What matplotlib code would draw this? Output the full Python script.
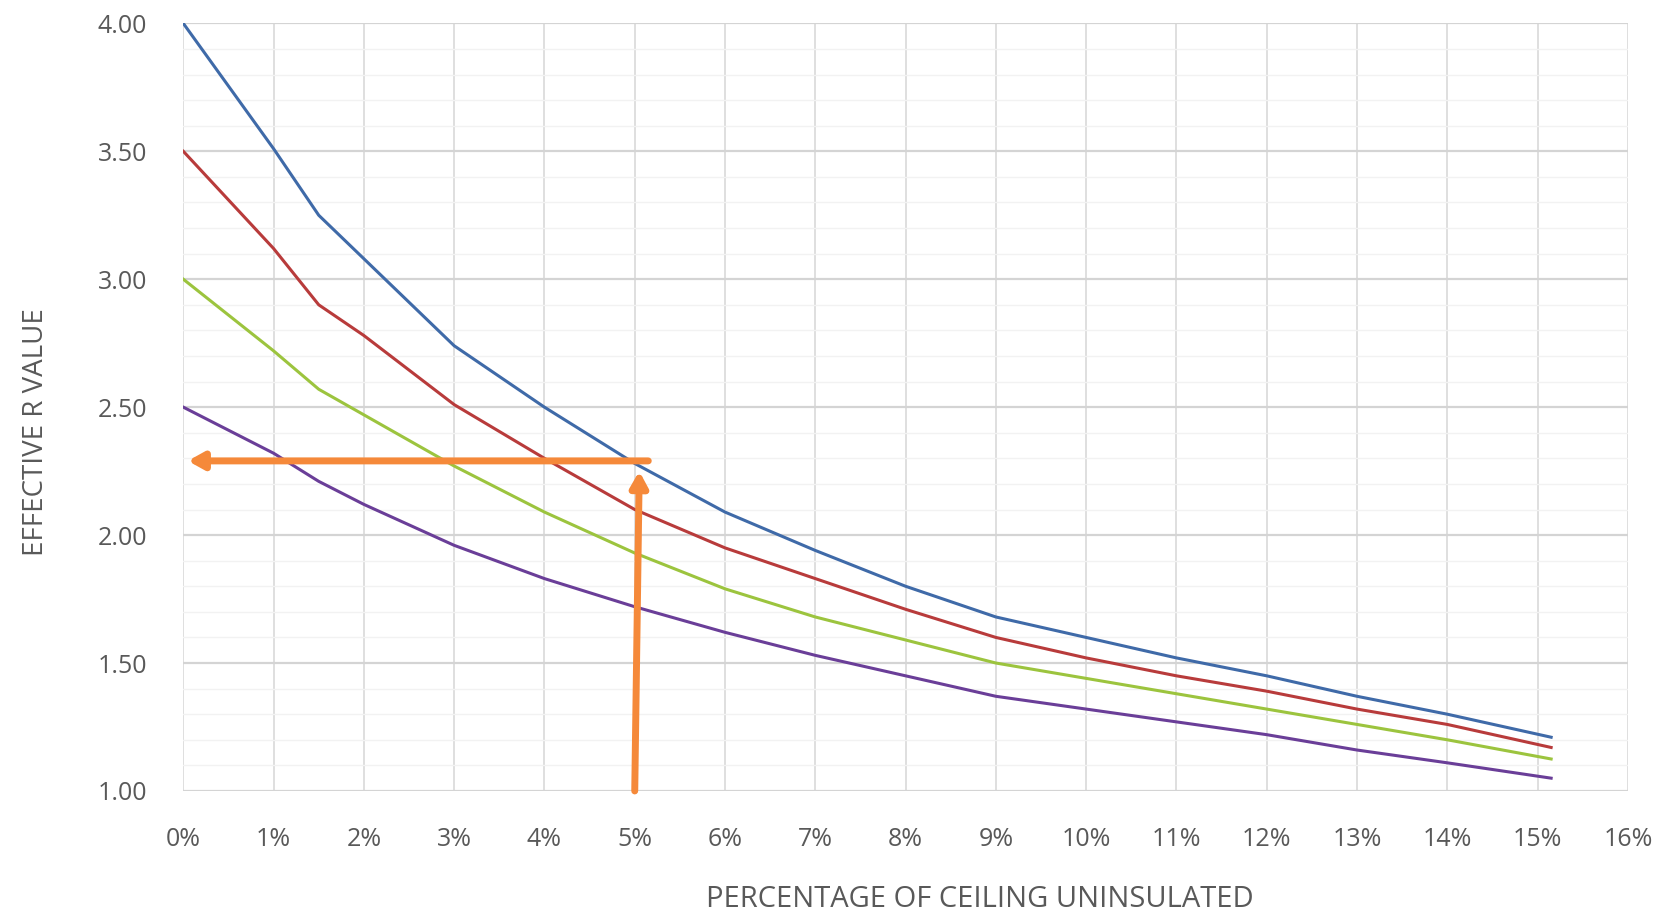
import matplotlib
matplotlib.use('Agg')
import matplotlib.pyplot as plt
from matplotlib.ticker import MultipleLocator, FuncFormatter

plt.rcParams['font.family'] = ['Open Sans', 'DejaVu Sans']

# percentage of ceiling uninsulated
pct = [0, 1, 1.5, 2, 3, 4, 5, 6, 7, 8, 9, 10, 11, 12, 13, 14, 15.15]

# effective R values
r40 = [4.00, 3.51, 3.25, 3.08, 2.74, 2.50, 2.28, 2.09, 1.94, 1.80, 1.68, 1.60, 1.52, 1.45, 1.37, 1.30, 1.21]
r35 = [3.50, 3.12, 2.90, 2.78, 2.51, 2.30, 2.10, 1.95, 1.83, 1.71, 1.60, 1.52, 1.45, 1.39, 1.32, 1.26, 1.17]
r30 = [3.00, 2.72, 2.57, 2.47, 2.27, 2.09, 1.93, 1.79, 1.68, 1.59, 1.50, 1.44, 1.38, 1.32, 1.26, 1.20, 1.125]
r25 = [2.50, 2.32, 2.21, 2.12, 1.96, 1.83, 1.72, 1.62, 1.53, 1.45, 1.37, 1.32, 1.27, 1.22, 1.16, 1.11, 1.05]

# worked example: 5% uninsulated -> about 2.29
ex_pct = 5.05
ex_r = 2.29

fig = plt.figure(figsize=(16.71, 9.16), dpi=100)
ax = fig.add_axes([0.1097, 0.1365, 0.8645, 0.838])

ax.plot(pct, r40, color='#3f6aa8', lw=2.2)
ax.plot(pct, r35, color='#b83b3b', lw=2.2)
ax.plot(pct, r30, color='#9cc43e', lw=2.2)
ax.plot(pct, r25, color='#6a3e98', lw=2.2)

# orange arrows
orange = '#f5893a'
ax.annotate('', xy=(0.05, ex_r), xytext=(ex_pct + 0.1, ex_r),
            arrowprops=dict(arrowstyle='-|>,head_length=0.9,head_width=0.5', color=orange, lw=5, shrinkA=0, shrinkB=0))
ax.annotate('', xy=(ex_pct, ex_r - 0.04), xytext=(ex_pct - 0.05, 1.0),
            arrowprops=dict(arrowstyle='-|>,head_length=0.9,head_width=0.5', color=orange, lw=5, shrinkA=0, shrinkB=0))

ax.set_xlim(0, 16)
ax.set_ylim(1.0, 4.0)
ax.xaxis.set_major_locator(MultipleLocator(1))
ax.yaxis.set_major_locator(MultipleLocator(0.5))
ax.yaxis.set_minor_locator(MultipleLocator(0.1))
ax.xaxis.set_major_formatter(FuncFormatter(lambda v, p: '%d%%' % v))
ax.yaxis.set_major_formatter(FuncFormatter(lambda v, p: '%.2f' % v))

ax.grid(which='major', axis='x', color='#d9d9d9', lw=1.2)
ax.grid(which='major', axis='y', color='#d4d4d4', lw=1.6)
ax.grid(which='minor', axis='y', color='#f2f2f2', lw=1.0)
ax.set_axisbelow(True)
for s in ax.spines.values():
    s.set_visible(False)
ax.tick_params(which='both', length=0, colors='#595959', labelsize=18)
ax.tick_params(axis='y', pad=26)
ax.tick_params(axis='x', pad=26)

ax.set_xlabel('PERCENTAGE OF CEILING UNINSULATED', fontsize=21, color='#595959', va='center')
ax.xaxis.set_label_coords(0.5516, -0.142)
ax.set_ylabel('EFFECTIVE R VALUE', fontsize=20, color='#595959', va='center')
ax.yaxis.set_label_coords(-0.102, 0.467)

fig.savefig('out.png', dpi=100, facecolor='white')
